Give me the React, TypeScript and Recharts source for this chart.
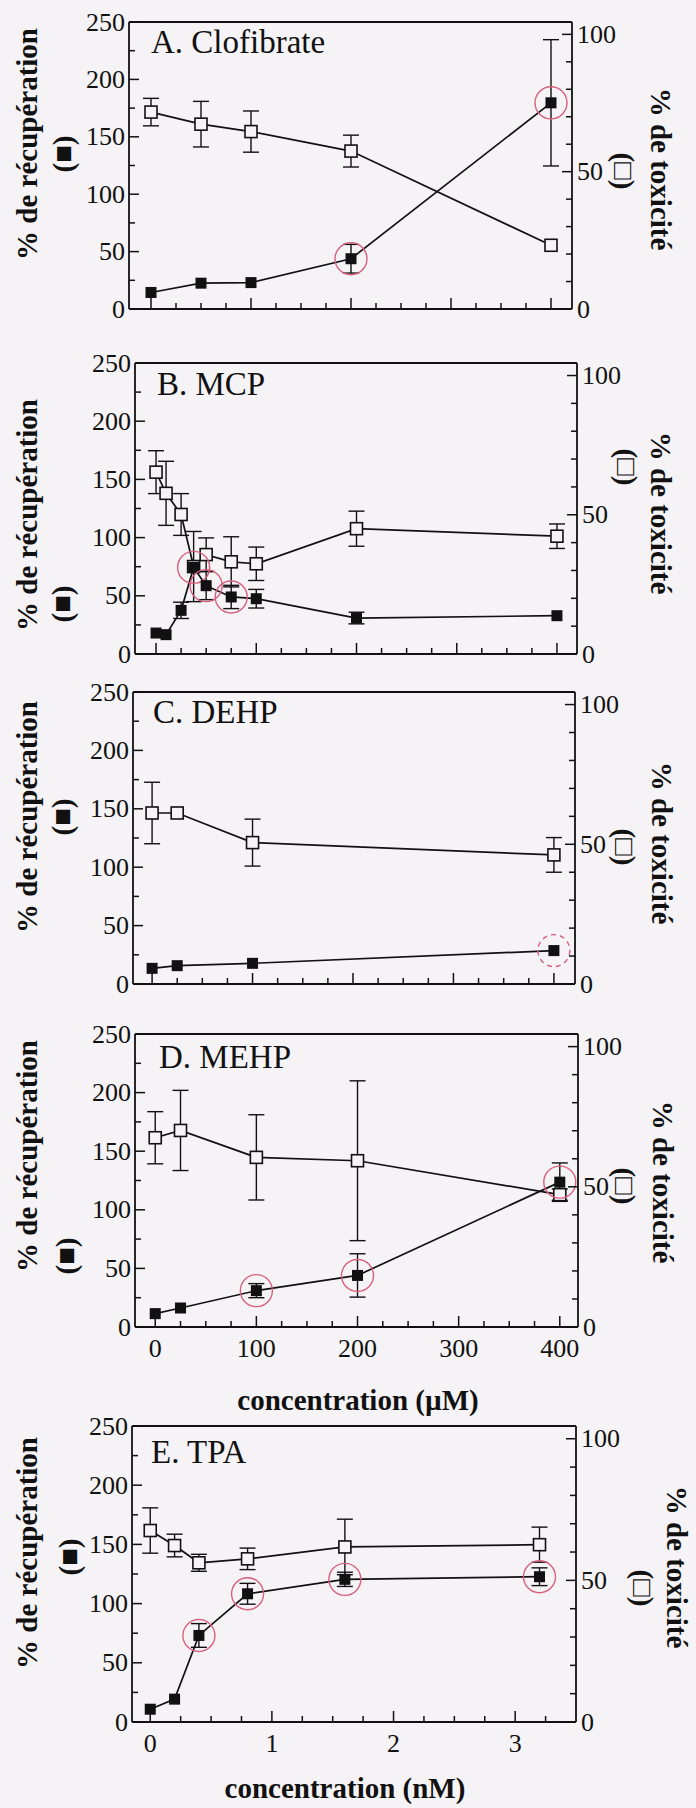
import { LineChart, Line, XAxis, YAxis, ErrorBar, ReferenceLine } from "recharts";

const FONT = '"Liberation Serif", "Times New Roman", serif';
const INK = "#111";
const PAPER = "#f5f3f6";
const MARK = "#d8607c";

// shared axis ticks
const recTicks = [0, 25, 50, 75, 100, 125, 150, 175, 200, 225, 250];
const toxTicks = [0, 10, 20, 30, 40, 50, 60, 70, 80, 90, 100];
const umTicks = [0, 25, 50, 75, 100, 125, 150, 175, 200, 225, 250, 275, 300, 325, 350, 375, 400];
const nmTicks = [0, 0.25, 0.5, 0.75, 1, 1.25, 1.5, 1.75, 2, 2.25, 2.5, 2.75, 3, 3.25];

// A. Clofibrate
const concA = [0, 50, 100, 200, 400];
const recA = [14.4, 22.5, 23, 43.8, 179.6];
const recErrA = [null, null, null, 12.5, 55];
const toxA = [71.7, 67.3, 64.6, 57.5, 23.2];
const toxErrA = [5, 8.3, 7.5, 5.8, null];
const circledA = [200, 400];

// B. MCP
const concB = [0, 10, 25, 37.5, 50, 75, 100, 200, 400];
const recB = [18, 16.6, 37.5, 74.4, 58.7, 49, 47.5, 30.9, 32.9];
const recErrB = [null, null, 7, null, 12, 10, 8, 5, null];
const toxB = [65.3, 57.7, 50.1, 31.4, 35.7, 33.1, 32.4, 45, 42.3];
const toxErrB = [7.7, 11.5, 7.5, 12.6, 6, 9, 6, 6.3, 4.4];
const circledB = [37.5, 50, 75];

// C. DEHP
const concC = [0, 25, 100, 400];
const recC = [13.4, 15.7, 17.7, 28.6];
const recErrC = [null, null, null, null];
const toxC = [61.2, 61.2, 50.6, 46.2];
const toxErrC = [11, null, 8.4, 6.2];
const circledC = [400];

// D. MEHP
const concD = [0, 25, 100, 200, 400];
const recD = [11.4, 16.2, 31, 44, 123.6];
const recErrD = [null, null, 6, 18.5, 16.4];
const toxD = [67.5, 70.1, 60.5, 59.3, 47.2];
const toxErrD = [9.3, 14.3, 15.2, 28.5, 2];
const circledD = [100, 200, 400];

// E. TPA
const concE = [0, 0.2, 0.4, 0.8, 1.6, 3.2];
const recE = [10.8, 19.3, 73.1, 108.3, 120.5, 122.7];
const recErrE = [null, null, 10, 8.8, 6, 7.5];
const toxE = [67.6, 62.3, 56.2, 57.6, 61.8, 62.6];
const toxErrE = [8, 4, 3, 3.8, 9.8, 6.2];
const circledE = [0.4, 0.8, 1.6, 3.2];

const Y_W = 60;
const X_H = 20;

const panels = [
  {
    title: "A. Clofibrate", titleAt: [151, 53], band: [0, 340],
    plot: { l: 129, r: 572, t: 22, b: 309 }, xDomain: [-22, 421],
    conc: concA, rec: recA, recErr: recErrA, tox: toxA, toxErr: toxErrA, circled: circledA,
    xTicks: umTicks, xMajor: 100, xLabels: false,
    leftAt: [27, 144], leftMarkAt: [63, 154], rightAt: [661, 169], rightMarkAt: [624, 171],
  },
  {
    title: "B. MCP", titleAt: [157, 395], band: [330, 350],
    plot: { l: 135, r: 577, t: 363, b: 654 }, xDomain: [-21, 420],
    conc: concB, rec: recB, recErr: recErrB, tox: toxB, toxErr: toxErrB, circled: circledB,
    xTicks: umTicks, xMajor: 100, xLabels: false,
    leftAt: [27, 515], leftMarkAt: [62, 604], rightAt: [661, 513], rightMarkAt: [627, 467],
  },
  {
    title: "C. DEHP", titleAt: [153, 723], band: [665, 345],
    plot: { l: 133, r: 575, t: 692, b: 984 }, xDomain: [-19, 421],
    conc: concC, rec: recC, recErr: recErrC, tox: toxC, toxErr: toxErrC, circled: circledC, dashed: true,
    xTicks: umTicks, xMajor: 100, xLabels: false,
    leftAt: [27, 817], leftMarkAt: [62, 817], rightAt: [662, 843], rightMarkAt: [625, 847],
  },
  {
    title: "D. MEHP", titleAt: [159, 1068], band: [1010, 400],
    plot: { l: 135, r: 578, t: 1034, b: 1327 }, xDomain: [-20, 418],
    conc: concD, rec: recD, recErr: recErrD, tox: toxD, toxErr: toxErrD, circled: circledD,
    xTicks: umTicks, xMajor: 100, xLabels: true,
    leftAt: [27, 1156], leftMarkAt: [66, 1256], rightAt: [663, 1182], rightMarkAt: [625, 1186],
    xTitle: "concentration (\u00b5M)", xTitleAt: [358, 1400],
  },
  {
    title: "E. TPA", titleAt: [151, 1463], band: [1400, 408],
    plot: { l: 132, r: 576, t: 1426, b: 1722 }, xDomain: [-0.15, 3.5],
    conc: concE, rec: recE, recErr: recErrE, tox: toxE, toxErr: toxErrE, circled: circledE,
    xTicks: nmTicks, xMajor: 1, xLabels: true,
    leftAt: [27, 1553], leftMarkAt: [69, 1557], rightAt: [677, 1567], rightMarkAt: [643, 1588],
    xTitle: "concentration (nM)", xTitleAt: [345, 1788],
  },
];

const tickText = { fontFamily: FONT, fontSize: 26, fill: INK };

function LeftTick({ x, y, payload }: any) {
  const v = payload.value;
  const major = v % 50 === 0;
  return (
    <g>
      <line x1={x} y1={y} x2={x + (major ? 10 : 6)} y2={y} stroke={INK} strokeWidth={1.5} />
      {major && (
        <text x={x - 4} y={y} textAnchor="end" dominantBaseline="central" {...tickText}>
          {v}
        </text>
      )}
    </g>
  );
}

function RightTick({ x, y, payload }: any) {
  const v = payload.value;
  const major = v % 50 === 0;
  return (
    <g>
      <line x1={x} y1={y} x2={x - (major ? 10 : 6)} y2={y} stroke={INK} strokeWidth={1.5} />
      {major && (
        <text x={x + 5} y={y} textAnchor="start" dominantBaseline="central" {...tickText}>
          {v}
        </text>
      )}
    </g>
  );
}

function XTick({ x, y, payload, step, labels }: any) {
  const v = payload.value;
  const major = Math.abs(v / step - Math.round(v / step)) < 1e-6;
  return (
    <g>
      <line x1={x} y1={y} x2={x} y2={y - (major ? 11 : 6)} stroke={INK} strokeWidth={1.5} />
      {labels && major && (
        <text x={x} y={y + 21} textAnchor="middle" dominantBaseline="central" {...tickText}>
          {v}
        </text>
      )}
    </g>
  );
}

function Panel({ p }: { p: any }) {
  const rows = p.conc.map((x: number, i: number) => ({
    x,
    rec: p.rec[i],
    recErr: p.recErr[i],
    tox: p.tox[i],
    toxErr: p.toxErr[i],
  }));
  const [top, h] = p.band;
  const margin = {
    top: p.plot.t - top,
    bottom: top + h - p.plot.b - X_H,
    left: p.plot.l - Y_W,
    right: 696 - p.plot.r - Y_W,
  };

  const filledDot = (d: any) => {
    const marked = p.circled.includes(d.payload.x);
    return (
      <g key={`f${d.index}`}>
        <rect x={d.cx - 5.5} y={d.cy - 5.5} width={11} height={11} fill={INK} />
        {marked && (
          <ellipse
            cx={d.cx}
            cy={d.cy}
            rx={16}
            ry={16}
            fill="none"
            stroke={MARK}
            strokeWidth={1.4}
            strokeDasharray={p.dashed ? "5 4" : undefined}
          />
        )}
      </g>
    );
  };
  const openDot = (d: any) => (
    <rect
      key={`o${d.index}`}
      x={d.cx - 6}
      y={d.cy - 6}
      width={12}
      height={12}
      fill={PAPER}
      stroke={INK}
      strokeWidth={1.6}
    />
  );

  return (
    <div style={{ position: "absolute", left: 0, top }}>
      <LineChart width={696} height={h} data={rows} margin={margin}>
        <XAxis
          dataKey="x"
          type="number"
          domain={p.xDomain}
          ticks={p.xTicks}
          interval={0}
          allowDataOverflow
          height={X_H}
          tickSize={0}
          tickMargin={0}
          tickLine={false}
          axisLine={{ stroke: INK, strokeWidth: 1.8 }}
          tick={(t: any) => <XTick {...t} step={p.xMajor} labels={p.xLabels} />}
        />
        <YAxis
          yAxisId="l"
          orientation="left"
          width={Y_W}
          domain={[0, 250]}
          ticks={recTicks}
          interval={0}
          allowDataOverflow
          tickSize={0}
          tickMargin={0}
          tickLine={false}
          axisLine={{ stroke: INK, strokeWidth: 1.8 }}
          tick={(t: any) => <LeftTick {...t} />}
        />
        <YAxis
          yAxisId="r"
          orientation="right"
          width={Y_W}
          domain={[0, 104.5]}
          ticks={toxTicks}
          interval={0}
          allowDataOverflow
          tickSize={0}
          tickMargin={0}
          tickLine={false}
          axisLine={{ stroke: INK, strokeWidth: 1.8 }}
          tick={(t: any) => <RightTick {...t} />}
        />
        <ReferenceLine yAxisId="l" y={250} stroke={INK} strokeWidth={1.8} />
        <Line
          yAxisId="r"
          dataKey="tox"
          stroke={INK}
          strokeWidth={1.7}
          dot={openDot}
          activeDot={false}
          isAnimationActive={false}
        >
          <ErrorBar dataKey="toxErr" direction="y" width={8} stroke={INK} strokeWidth={1.4} />
        </Line>
        <Line
          yAxisId="l"
          dataKey="rec"
          stroke={INK}
          strokeWidth={1.7}
          dot={filledDot}
          activeDot={false}
          isAnimationActive={false}
        >
          <ErrorBar dataKey="recErr" direction="y" width={8} stroke={INK} strokeWidth={1.4} />
        </Line>
      </LineChart>
    </div>
  );
}

const labelText = { fontFamily: FONT, fontSize: 29, fontWeight: 700, fill: INK };

export default function App() {
  return (
    <div
      style={{
        position: "absolute",
        left: 0,
        top: 0,
        width: 696,
        height: 1808,
        background: PAPER,
        overflow: "hidden",
      }}
    >
      {panels.map((p) => (
        <Panel key={p.title} p={p} />
      ))}
      <svg
        width={696}
        height={1808}
        style={{ position: "absolute", left: 0, top: 0, pointerEvents: "none" }}
      >
        {panels.map((p) => (
          <g key={p.title}>
            <text x={p.titleAt[0]} y={p.titleAt[1]} fontFamily={FONT} fontSize={33} fill={INK}>
              {p.title}
            </text>
            <text
              transform={`translate(${p.leftAt[0]},${p.leftAt[1]}) rotate(-90)`}
              textAnchor="middle"
              dominantBaseline="central"
              {...labelText}
            >
              % de récupération
            </text>
            <text
              transform={`translate(${p.leftMarkAt[0]},${p.leftMarkAt[1]}) rotate(-90)`}
              textAnchor="middle"
              dominantBaseline="central"
              {...labelText}
            >
              (■)
            </text>
            <text
              transform={`translate(${p.rightAt[0]},${p.rightAt[1]}) rotate(90)`}
              textAnchor="middle"
              dominantBaseline="central"
              {...labelText}
            >
              % de toxicité
            </text>
            <text
              transform={`translate(${p.rightMarkAt[0]},${p.rightMarkAt[1]}) rotate(90)`}
              textAnchor="middle"
              dominantBaseline="central"
              {...labelText}
            >
              (□)
            </text>
            {p.xTitle && (
              <text
                x={p.xTitleAt[0]}
                y={p.xTitleAt[1]}
                textAnchor="middle"
                dominantBaseline="central"
                {...labelText}
              >
                {p.xTitle}
              </text>
            )}
          </g>
        ))}
      </svg>
    </div>
  );
}
